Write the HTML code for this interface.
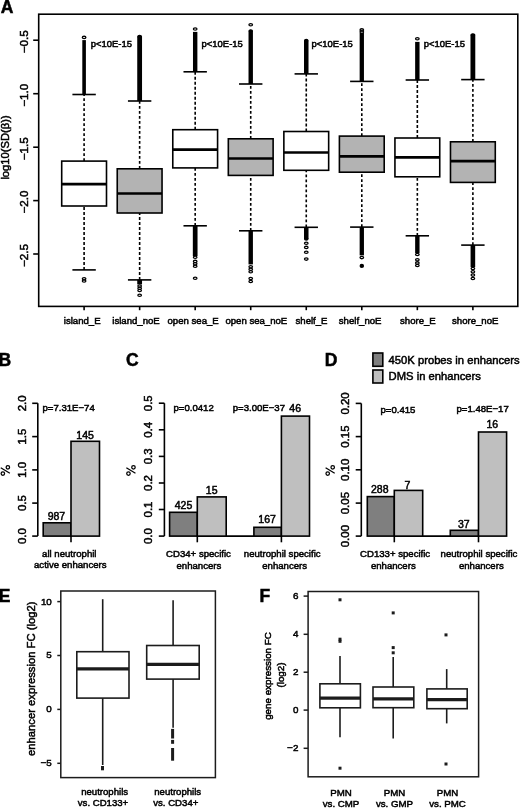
<!DOCTYPE html>
<html><head><meta charset="utf-8"><style>
html,body{margin:0;padding:0;background:#fff;}
svg{display:block;}
text{font-family:"Liberation Sans",sans-serif;fill:#000;stroke:#000;stroke-width:0.5px;}
svg{will-change:transform;}
</style></head><body>
<svg width="520" height="808" viewBox="0 0 520 808">
<text x="0.76" y="12.7" font-size="17.5" text-anchor="start" font-weight="bold">A</text>
<rect x="38.7" y="14.2" width="479.1" height="292.2" fill="none" stroke="#000" stroke-width="1.6"/>
<line x1="33.2" y1="40.2" x2="38.7" y2="40.2" stroke="#000" stroke-width="1.6"/>
<text x="28.2" y="41.7" font-size="10.8" text-anchor="middle" font-weight="normal" transform="rotate(-90 28.2 41.7) translate(28.2 41.7) scale(1.08 1) translate(-28.2 -41.7)">−0.5</text>
<line x1="33.2" y1="93.7" x2="38.7" y2="93.7" stroke="#000" stroke-width="1.6"/>
<text x="28.2" y="95.2" font-size="10.8" text-anchor="middle" font-weight="normal" transform="rotate(-90 28.2 95.2) translate(28.2 95.2) scale(1.08 1) translate(-28.2 -95.2)">−1.0</text>
<line x1="33.2" y1="147.2" x2="38.7" y2="147.2" stroke="#000" stroke-width="1.6"/>
<text x="28.2" y="148.7" font-size="10.8" text-anchor="middle" font-weight="normal" transform="rotate(-90 28.2 148.7) translate(28.2 148.7) scale(1.08 1) translate(-28.2 -148.7)">−1.5</text>
<line x1="33.2" y1="200.6" x2="38.7" y2="200.6" stroke="#000" stroke-width="1.6"/>
<text x="28.2" y="202.1" font-size="10.8" text-anchor="middle" font-weight="normal" transform="rotate(-90 28.2 202.1) translate(28.2 202.1) scale(1.08 1) translate(-28.2 -202.1)">−2.0</text>
<line x1="33.2" y1="254" x2="38.7" y2="254" stroke="#000" stroke-width="1.6"/>
<text x="28.2" y="255.5" font-size="10.8" text-anchor="middle" font-weight="normal" transform="rotate(-90 28.2 255.5) translate(28.2 255.5) scale(1.08 1) translate(-28.2 -255.5)">−2.5</text>
<text x="9.4" y="147.5" font-size="11.2" text-anchor="middle" font-weight="normal" transform="rotate(-90 9.4 147.5)">log10(SD(β))</text>
<line x1="84.1" y1="161.1" x2="84.1" y2="94.5" stroke="#000" stroke-width="1.6" stroke-dasharray="2.9 2.1"/>
<line x1="84.1" y1="269.9" x2="84.1" y2="206" stroke="#000" stroke-width="1.6" stroke-dasharray="2.9 2.1"/>
<line x1="72.4" y1="94.5" x2="95.8" y2="94.5" stroke="#000" stroke-width="1.6"/>
<line x1="72.4" y1="269.9" x2="95.8" y2="269.9" stroke="#000" stroke-width="1.6"/>
<rect x="61.7" y="161.1" width="44.8" height="44.9" fill="#fff" stroke="#000" stroke-width="1.6"/>
<line x1="61.7" y1="184.2" x2="106.5" y2="184.2" stroke="#000" stroke-width="2.7"/>
<line x1="139.64" y1="168.8" x2="139.64" y2="101" stroke="#000" stroke-width="1.6" stroke-dasharray="2.9 2.1"/>
<line x1="139.64" y1="279.9" x2="139.64" y2="213" stroke="#000" stroke-width="1.6" stroke-dasharray="2.9 2.1"/>
<line x1="127.94" y1="101" x2="151.34" y2="101" stroke="#000" stroke-width="1.6"/>
<line x1="127.94" y1="279.9" x2="151.34" y2="279.9" stroke="#000" stroke-width="1.6"/>
<rect x="117.24" y="168.8" width="44.8" height="44.2" fill="#b3b3b3" stroke="#000" stroke-width="1.6"/>
<line x1="117.24" y1="193.5" x2="162.04" y2="193.5" stroke="#000" stroke-width="2.7"/>
<line x1="195.18" y1="129.7" x2="195.18" y2="71.8" stroke="#000" stroke-width="1.6" stroke-dasharray="2.9 2.1"/>
<line x1="195.18" y1="225.8" x2="195.18" y2="167.9" stroke="#000" stroke-width="1.6" stroke-dasharray="2.9 2.1"/>
<line x1="183.48" y1="71.8" x2="206.88" y2="71.8" stroke="#000" stroke-width="1.6"/>
<line x1="183.48" y1="225.8" x2="206.88" y2="225.8" stroke="#000" stroke-width="1.6"/>
<rect x="172.78" y="129.7" width="44.8" height="38.2" fill="#fff" stroke="#000" stroke-width="1.6"/>
<line x1="172.78" y1="149.6" x2="217.58" y2="149.6" stroke="#000" stroke-width="2.7"/>
<line x1="250.72" y1="138.8" x2="250.72" y2="84" stroke="#000" stroke-width="1.6" stroke-dasharray="2.9 2.1"/>
<line x1="250.72" y1="230.8" x2="250.72" y2="175.4" stroke="#000" stroke-width="1.6" stroke-dasharray="2.9 2.1"/>
<line x1="239.02" y1="84" x2="262.42" y2="84" stroke="#000" stroke-width="1.6"/>
<line x1="239.02" y1="230.8" x2="262.42" y2="230.8" stroke="#000" stroke-width="1.6"/>
<rect x="228.32" y="138.8" width="44.8" height="36.6" fill="#b3b3b3" stroke="#000" stroke-width="1.6"/>
<line x1="228.32" y1="158.5" x2="273.12" y2="158.5" stroke="#000" stroke-width="2.7"/>
<line x1="306.26" y1="131.5" x2="306.26" y2="73.9" stroke="#000" stroke-width="1.6" stroke-dasharray="2.9 2.1"/>
<line x1="306.26" y1="227.3" x2="306.26" y2="170.3" stroke="#000" stroke-width="1.6" stroke-dasharray="2.9 2.1"/>
<line x1="294.56" y1="73.9" x2="317.96" y2="73.9" stroke="#000" stroke-width="1.6"/>
<line x1="294.56" y1="227.3" x2="317.96" y2="227.3" stroke="#000" stroke-width="1.6"/>
<rect x="283.86" y="131.5" width="44.8" height="38.8" fill="#fff" stroke="#000" stroke-width="1.6"/>
<line x1="283.86" y1="152.5" x2="328.66" y2="152.5" stroke="#000" stroke-width="2.7"/>
<line x1="361.8" y1="136.1" x2="361.8" y2="81.4" stroke="#000" stroke-width="1.6" stroke-dasharray="2.9 2.1"/>
<line x1="361.8" y1="227.1" x2="361.8" y2="172.2" stroke="#000" stroke-width="1.6" stroke-dasharray="2.9 2.1"/>
<line x1="350.1" y1="81.4" x2="373.5" y2="81.4" stroke="#000" stroke-width="1.6"/>
<line x1="350.1" y1="227.1" x2="373.5" y2="227.1" stroke="#000" stroke-width="1.6"/>
<rect x="339.4" y="136.1" width="44.8" height="36.1" fill="#b3b3b3" stroke="#000" stroke-width="1.6"/>
<line x1="339.4" y1="156.3" x2="384.2" y2="156.3" stroke="#000" stroke-width="2.7"/>
<line x1="417.34" y1="138" x2="417.34" y2="80" stroke="#000" stroke-width="1.6" stroke-dasharray="2.9 2.1"/>
<line x1="417.34" y1="235.8" x2="417.34" y2="176.8" stroke="#000" stroke-width="1.6" stroke-dasharray="2.9 2.1"/>
<line x1="405.64" y1="80" x2="429.04" y2="80" stroke="#000" stroke-width="1.6"/>
<line x1="405.64" y1="235.8" x2="429.04" y2="235.8" stroke="#000" stroke-width="1.6"/>
<rect x="394.94" y="138" width="44.8" height="38.8" fill="#fff" stroke="#000" stroke-width="1.6"/>
<line x1="394.94" y1="157.4" x2="439.74" y2="157.4" stroke="#000" stroke-width="2.7"/>
<line x1="472.88" y1="141.8" x2="472.88" y2="79.6" stroke="#000" stroke-width="1.6" stroke-dasharray="2.9 2.1"/>
<line x1="472.88" y1="245.1" x2="472.88" y2="182.4" stroke="#000" stroke-width="1.6" stroke-dasharray="2.9 2.1"/>
<line x1="461.18" y1="79.6" x2="484.58" y2="79.6" stroke="#000" stroke-width="1.6"/>
<line x1="461.18" y1="245.1" x2="484.58" y2="245.1" stroke="#000" stroke-width="1.6"/>
<rect x="450.48" y="141.8" width="44.8" height="40.6" fill="#b3b3b3" stroke="#000" stroke-width="1.6"/>
<line x1="450.48" y1="161.2" x2="495.28" y2="161.2" stroke="#000" stroke-width="2.7"/>
<rect x="82.3" y="40.1" width="3.6" height="54.4" fill="#000"/>
<ellipse cx="84.1" cy="37.4" rx="1.8" ry="1.15" fill="none" stroke="#000" stroke-width="1.3"/>
<rect x="137.24" y="36.5" width="4.8" height="64.5" fill="#000"/>
<ellipse cx="139.64" cy="36.5" rx="1.8" ry="1" fill="#000" stroke="#000" stroke-width="1.3"/>
<rect x="192.98" y="31.9" width="4.4" height="39.9" fill="#000"/>
<ellipse cx="195.18" cy="28.95" rx="1.8" ry="1.15" fill="none" stroke="#000" stroke-width="1.3"/>
<rect x="248.52" y="30.8" width="4.4" height="53.2" fill="#000"/>
<ellipse cx="250.72" cy="30.8" rx="1.6" ry="1" fill="#000" stroke="#000" stroke-width="1.3"/>
<ellipse cx="250.72" cy="24.7" rx="1.8" ry="1.15" fill="none" stroke="#000" stroke-width="1.3"/>
<rect x="304.01" y="40.5" width="4.5" height="33.4" fill="#000"/>
<ellipse cx="306.26" cy="40.5" rx="1.65" ry="1" fill="#000" stroke="#000" stroke-width="1.3"/>
<rect x="359.65" y="33" width="4.3" height="48.4" fill="#000"/>
<ellipse cx="361.8" cy="29.9" rx="1.8" ry="1.15" fill="none" stroke="#000" stroke-width="1.3"/>
<ellipse cx="361.8" cy="31.9" rx="1.8" ry="1.15" fill="none" stroke="#000" stroke-width="1.3"/>
<rect x="415.14" y="41.9" width="4.4" height="38.1" fill="#000"/>
<ellipse cx="417.34" cy="38.8" rx="1.8" ry="1.15" fill="none" stroke="#000" stroke-width="1.3"/>
<rect x="470.48" y="34.8" width="4.8" height="44.8" fill="#000"/>
<ellipse cx="472.88" cy="34.8" rx="1.8" ry="1" fill="#000" stroke="#000" stroke-width="1.3"/>
<ellipse cx="84.1" cy="278.7" rx="1.8" ry="1.15" fill="none" stroke="#000" stroke-width="1.3"/>
<ellipse cx="84.1" cy="281" rx="1.8" ry="1.15" fill="none" stroke="#000" stroke-width="1.3"/>
<rect x="137.24" y="279.9" width="4.8" height="4.5" fill="#000"/>
<ellipse cx="139.64" cy="286" rx="1.8" ry="1.15" fill="none" stroke="#000" stroke-width="1.3"/>
<ellipse cx="139.64" cy="288.2" rx="1.8" ry="1.15" fill="none" stroke="#000" stroke-width="1.3"/>
<ellipse cx="139.64" cy="290.5" rx="1.8" ry="1.15" fill="none" stroke="#000" stroke-width="1.3"/>
<ellipse cx="139.64" cy="295.2" rx="1.8" ry="1.15" fill="none" stroke="#000" stroke-width="1.3"/>
<rect x="192.83" y="225.8" width="4.7" height="30.2" fill="#000"/>
<ellipse cx="195.18" cy="257.3" rx="1.8" ry="1.15" fill="none" stroke="#000" stroke-width="1.3"/>
<ellipse cx="195.18" cy="261.4" rx="1.8" ry="1.15" fill="none" stroke="#000" stroke-width="1.3"/>
<ellipse cx="195.18" cy="263.8" rx="1.8" ry="1.15" fill="none" stroke="#000" stroke-width="1.3"/>
<ellipse cx="195.18" cy="266.3" rx="1.8" ry="1.15" fill="none" stroke="#000" stroke-width="1.3"/>
<ellipse cx="195.18" cy="278.3" rx="1.8" ry="1.15" fill="none" stroke="#000" stroke-width="1.3"/>
<rect x="248.52" y="230.8" width="4.4" height="33.6" fill="#000"/>
<ellipse cx="250.72" cy="266.8" rx="1.8" ry="1.15" fill="none" stroke="#000" stroke-width="1.3"/>
<ellipse cx="250.72" cy="269.2" rx="1.8" ry="1.15" fill="none" stroke="#000" stroke-width="1.3"/>
<ellipse cx="250.72" cy="271.7" rx="1.8" ry="1.15" fill="none" stroke="#000" stroke-width="1.3"/>
<ellipse cx="250.72" cy="278.5" rx="1.8" ry="1.15" fill="none" stroke="#000" stroke-width="1.3"/>
<ellipse cx="250.72" cy="281.5" rx="1.8" ry="1.15" fill="none" stroke="#000" stroke-width="1.3"/>
<rect x="304.01" y="227.3" width="4.5" height="11.7" fill="#000"/>
<ellipse cx="306.26" cy="239" rx="1.65" ry="1" fill="#000" stroke="#000" stroke-width="1.3"/>
<ellipse cx="306.26" cy="243.3" rx="1.8" ry="1.15" fill="none" stroke="#000" stroke-width="1.3"/>
<ellipse cx="306.26" cy="247.4" rx="1.8" ry="1.15" fill="none" stroke="#000" stroke-width="1.3"/>
<ellipse cx="306.26" cy="252.3" rx="1.8" ry="1.15" fill="none" stroke="#000" stroke-width="1.3"/>
<ellipse cx="306.26" cy="259.1" rx="1.8" ry="1.15" fill="none" stroke="#000" stroke-width="1.3"/>
<rect x="359.65" y="227.1" width="4.3" height="28.3" fill="#000"/>
<ellipse cx="361.8" cy="257.6" rx="1.8" ry="1.15" fill="none" stroke="#000" stroke-width="1.3"/>
<ellipse cx="361.8" cy="265.9" rx="1.6" ry="1.4" fill="#000" stroke="#000" stroke-width="1.3"/>
<rect x="415.14" y="235.8" width="4.4" height="17.3" fill="#000"/>
<ellipse cx="417.34" cy="254.5" rx="1.8" ry="1.15" fill="none" stroke="#000" stroke-width="1.3"/>
<ellipse cx="417.34" cy="259.7" rx="1.8" ry="1.15" fill="none" stroke="#000" stroke-width="1.3"/>
<ellipse cx="417.34" cy="262.9" rx="1.8" ry="1.15" fill="none" stroke="#000" stroke-width="1.3"/>
<ellipse cx="417.34" cy="265.5" rx="1.8" ry="1.15" fill="none" stroke="#000" stroke-width="1.3"/>
<rect x="470.58" y="245.1" width="4.6" height="22" fill="#000"/>
<ellipse cx="472.88" cy="268.6" rx="1.8" ry="1.15" fill="none" stroke="#000" stroke-width="1.3"/>
<ellipse cx="472.88" cy="271.7" rx="1.8" ry="1.15" fill="none" stroke="#000" stroke-width="1.3"/>
<ellipse cx="472.88" cy="275.1" rx="1.8" ry="1.15" fill="none" stroke="#000" stroke-width="1.3"/>
<ellipse cx="472.88" cy="278.5" rx="1.8" ry="1.15" fill="none" stroke="#000" stroke-width="1.3"/>
<line x1="84.1" y1="306.3" x2="84.1" y2="310.2" stroke="#000" stroke-width="1.6"/>
<line x1="139.64" y1="306.3" x2="139.64" y2="310.2" stroke="#000" stroke-width="1.6"/>
<line x1="195.18" y1="306.3" x2="195.18" y2="310.2" stroke="#000" stroke-width="1.6"/>
<line x1="250.72" y1="306.3" x2="250.72" y2="310.2" stroke="#000" stroke-width="1.6"/>
<line x1="306.26" y1="306.3" x2="306.26" y2="310.2" stroke="#000" stroke-width="1.6"/>
<line x1="361.8" y1="306.3" x2="361.8" y2="310.2" stroke="#000" stroke-width="1.6"/>
<line x1="417.34" y1="306.3" x2="417.34" y2="310.2" stroke="#000" stroke-width="1.6"/>
<line x1="472.88" y1="306.3" x2="472.88" y2="310.2" stroke="#000" stroke-width="1.6"/>
<text x="63.8" y="324.2" font-size="9.6" text-anchor="start" font-weight="normal">island_E</text>
<text x="112.3" y="324.2" font-size="9.6" text-anchor="start" font-weight="normal">island_noE</text>
<text x="167.5" y="324.2" font-size="9.6" text-anchor="start" font-weight="normal">open sea_E</text>
<text x="225.4" y="324.2" font-size="9.6" text-anchor="start" font-weight="normal">open sea_noE</text>
<text x="295.5" y="324.2" font-size="9.6" text-anchor="start" font-weight="normal">shelf_E</text>
<text x="338.8" y="324.2" font-size="9.6" text-anchor="start" font-weight="normal">shelf_noE</text>
<text x="400" y="324.2" font-size="9.6" text-anchor="start" font-weight="normal">shore_E</text>
<text x="452" y="324.2" font-size="9.6" text-anchor="start" font-weight="normal">shore_noE</text>
<text x="90.8" y="46.6" font-size="9.45" text-anchor="start" font-weight="normal">p&lt;10E-15</text>
<text x="201.6" y="46.8" font-size="9.45" text-anchor="start" font-weight="normal">p&lt;10E-15</text>
<text x="311.6" y="46.5" font-size="9.45" text-anchor="start" font-weight="normal">p&lt;10E-15</text>
<text x="423.7" y="47.3" font-size="9.45" text-anchor="start" font-weight="normal">p&lt;10E-15</text>
<text x="-1.5" y="365.6" font-size="17.5" text-anchor="start" font-weight="bold">B</text>
<line x1="37.8" y1="403.3" x2="37.8" y2="536.1" stroke="#000" stroke-width="1.6"/>
<line x1="32.2" y1="536.1" x2="37.8" y2="536.1" stroke="#000" stroke-width="1.6"/>
<text x="26.1" y="536.1" font-size="11.2" text-anchor="middle" font-weight="normal" transform="rotate(-90 26.1 536.1) translate(26.1 536.1) scale(1.02 1) translate(-26.1 -536.1)">0.0</text>
<line x1="32.2" y1="503.1" x2="37.8" y2="503.1" stroke="#000" stroke-width="1.6"/>
<text x="26.1" y="503.1" font-size="11.2" text-anchor="middle" font-weight="normal" transform="rotate(-90 26.1 503.1) translate(26.1 503.1) scale(1.02 1) translate(-26.1 -503.1)">0.5</text>
<line x1="32.2" y1="469.9" x2="37.8" y2="469.9" stroke="#000" stroke-width="1.6"/>
<text x="26.1" y="469.9" font-size="11.2" text-anchor="middle" font-weight="normal" transform="rotate(-90 26.1 469.9) translate(26.1 469.9) scale(1.02 1) translate(-26.1 -469.9)">1.0</text>
<line x1="32.2" y1="436.6" x2="37.8" y2="436.6" stroke="#000" stroke-width="1.6"/>
<text x="26.1" y="436.6" font-size="11.2" text-anchor="middle" font-weight="normal" transform="rotate(-90 26.1 436.6) translate(26.1 436.6) scale(1.02 1) translate(-26.1 -436.6)">1.5</text>
<line x1="32.2" y1="403.3" x2="37.8" y2="403.3" stroke="#000" stroke-width="1.6"/>
<text x="26.1" y="403.3" font-size="11.2" text-anchor="middle" font-weight="normal" transform="rotate(-90 26.1 403.3) translate(26.1 403.3) scale(1.02 1) translate(-26.1 -403.3)">2.0</text>
<g fill="none" stroke="#000" stroke-width="1.25"><circle cx="7.85" cy="467.3" r="1.75"/><circle cx="2.85" cy="473.5" r="1.75"/><line x1="0.75" y1="467.8" x2="9.85" y2="473.2"/></g>
<rect x="43.2" y="522.8" width="27.8" height="13.3" fill="#7f7f7f" stroke="#000" stroke-width="1.6"/>
<rect x="71" y="441.3" width="28.5" height="94.8" fill="#bfbfbf" stroke="#000" stroke-width="1.6"/>
<line x1="71" y1="536.1" x2="71" y2="542.3" stroke="#000" stroke-width="1.6"/>
<text x="56.4" y="519.9" font-size="10.5" text-anchor="middle" font-weight="normal">987</text>
<text x="85.1" y="439" font-size="10.5" text-anchor="middle" font-weight="normal">145</text>
<text x="42.5" y="411.3" font-size="9.6" text-anchor="start" font-weight="normal">p=7.31E−74</text>
<text x="69.3" y="557" font-size="9.6" text-anchor="middle" font-weight="normal">all neutrophil</text>
<text x="70.3" y="568.3" font-size="9.6" text-anchor="middle" font-weight="normal">active enhancers</text>
<text x="126" y="365.5" font-size="17.5" text-anchor="start" font-weight="bold">C</text>
<line x1="164.4" y1="403.2" x2="164.4" y2="536.1" stroke="#000" stroke-width="1.6"/>
<line x1="158.8" y1="536.1" x2="164.4" y2="536.1" stroke="#000" stroke-width="1.6"/>
<text x="152.4" y="536.1" font-size="11.2" text-anchor="middle" font-weight="normal" transform="rotate(-90 152.4 536.1) translate(152.4 536.1) scale(1.02 1) translate(-152.4 -536.1)">0.0</text>
<line x1="158.8" y1="509.5" x2="164.4" y2="509.5" stroke="#000" stroke-width="1.6"/>
<text x="152.4" y="509.5" font-size="11.2" text-anchor="middle" font-weight="normal" transform="rotate(-90 152.4 509.5) translate(152.4 509.5) scale(1.02 1) translate(-152.4 -509.5)">0.1</text>
<line x1="158.8" y1="483" x2="164.4" y2="483" stroke="#000" stroke-width="1.6"/>
<text x="152.4" y="483" font-size="11.2" text-anchor="middle" font-weight="normal" transform="rotate(-90 152.4 483) translate(152.4 483) scale(1.02 1) translate(-152.4 -483)">0.2</text>
<line x1="158.8" y1="456.4" x2="164.4" y2="456.4" stroke="#000" stroke-width="1.6"/>
<text x="152.4" y="456.4" font-size="11.2" text-anchor="middle" font-weight="normal" transform="rotate(-90 152.4 456.4) translate(152.4 456.4) scale(1.02 1) translate(-152.4 -456.4)">0.3</text>
<line x1="158.8" y1="429.8" x2="164.4" y2="429.8" stroke="#000" stroke-width="1.6"/>
<text x="152.4" y="429.8" font-size="11.2" text-anchor="middle" font-weight="normal" transform="rotate(-90 152.4 429.8) translate(152.4 429.8) scale(1.02 1) translate(-152.4 -429.8)">0.4</text>
<line x1="158.8" y1="403.2" x2="164.4" y2="403.2" stroke="#000" stroke-width="1.6"/>
<text x="152.4" y="403.2" font-size="11.2" text-anchor="middle" font-weight="normal" transform="rotate(-90 152.4 403.2) translate(152.4 403.2) scale(1.02 1) translate(-152.4 -403.2)">0.5</text>
<g fill="none" stroke="#000" stroke-width="1.25"><circle cx="133.45" cy="467.3" r="1.75"/><circle cx="128.45" cy="473.5" r="1.75"/><line x1="126.35" y1="467.8" x2="135.45" y2="473.2"/></g>
<line x1="197.3" y1="536.1" x2="281.4" y2="536.1" stroke="#000" stroke-width="1.6"/>
<rect x="169.6" y="512.3" width="27.7" height="23.8" fill="#7f7f7f" stroke="#000" stroke-width="1.6"/>
<rect x="197.3" y="496.9" width="28.9" height="39.2" fill="#bfbfbf" stroke="#000" stroke-width="1.6"/>
<rect x="253.9" y="527.3" width="27.5" height="8.8" fill="#7f7f7f" stroke="#000" stroke-width="1.6"/>
<rect x="281.4" y="416.1" width="28.1" height="120" fill="#bfbfbf" stroke="#000" stroke-width="1.6"/>
<line x1="197.3" y1="536.1" x2="197.3" y2="542.3" stroke="#000" stroke-width="1.6"/>
<line x1="281.4" y1="536.1" x2="281.4" y2="542.3" stroke="#000" stroke-width="1.6"/>
<text x="183.5" y="508.9" font-size="10.5" text-anchor="middle" font-weight="normal">425</text>
<text x="211.7" y="493.9" font-size="10.5" text-anchor="middle" font-weight="normal">15</text>
<text x="267.1" y="523.4" font-size="10.5" text-anchor="middle" font-weight="normal">167</text>
<text x="295.2" y="412.4" font-size="10.5" text-anchor="middle" font-weight="normal">46</text>
<text x="173.5" y="410.5" font-size="9.6" text-anchor="start" font-weight="normal">p=0.0412</text>
<text x="232.7" y="411.3" font-size="9.6" text-anchor="start" font-weight="normal">p=3.00E−37</text>
<text x="198.5" y="557" font-size="9.6" text-anchor="middle" font-weight="normal">CD34+ specific</text>
<text x="198.9" y="568.5" font-size="9.6" text-anchor="middle" font-weight="normal">enhancers</text>
<text x="282.2" y="557" font-size="9.6" text-anchor="middle" font-weight="normal">neutrophil specific</text>
<text x="284.7" y="568.5" font-size="9.6" text-anchor="middle" font-weight="normal">enhancers</text>
<text x="324.8" y="365.6" font-size="17.5" text-anchor="start" font-weight="bold">D</text>
<line x1="361.3" y1="403.4" x2="361.3" y2="536.1" stroke="#000" stroke-width="1.6"/>
<line x1="355.7" y1="536.1" x2="361.3" y2="536.1" stroke="#000" stroke-width="1.6"/>
<text x="349.1" y="536.1" font-size="11.2" text-anchor="middle" font-weight="normal" transform="rotate(-90 349.1 536.1) translate(349.1 536.1) scale(1.02 1) translate(-349.1 -536.1)">0.00</text>
<line x1="355.7" y1="503.1" x2="361.3" y2="503.1" stroke="#000" stroke-width="1.6"/>
<text x="349.1" y="503.1" font-size="11.2" text-anchor="middle" font-weight="normal" transform="rotate(-90 349.1 503.1) translate(349.1 503.1) scale(1.02 1) translate(-349.1 -503.1)">0.05</text>
<line x1="355.7" y1="469.8" x2="361.3" y2="469.8" stroke="#000" stroke-width="1.6"/>
<text x="349.1" y="469.8" font-size="11.2" text-anchor="middle" font-weight="normal" transform="rotate(-90 349.1 469.8) translate(349.1 469.8) scale(1.02 1) translate(-349.1 -469.8)">0.10</text>
<line x1="355.7" y1="436.6" x2="361.3" y2="436.6" stroke="#000" stroke-width="1.6"/>
<text x="349.1" y="436.6" font-size="11.2" text-anchor="middle" font-weight="normal" transform="rotate(-90 349.1 436.6) translate(349.1 436.6) scale(1.02 1) translate(-349.1 -436.6)">0.15</text>
<line x1="355.7" y1="403.4" x2="361.3" y2="403.4" stroke="#000" stroke-width="1.6"/>
<text x="349.1" y="403.4" font-size="11.2" text-anchor="middle" font-weight="normal" transform="rotate(-90 349.1 403.4) translate(349.1 403.4) scale(1.02 1) translate(-349.1 -403.4)">0.20</text>
<g fill="none" stroke="#000" stroke-width="1.25"><circle cx="332.7" cy="467.3" r="1.75"/><circle cx="327.7" cy="473.5" r="1.75"/><line x1="325.6" y1="467.8" x2="334.7" y2="473.2"/></g>
<line x1="394.3" y1="536.1" x2="478.5" y2="536.1" stroke="#000" stroke-width="1.6"/>
<rect x="367.3" y="496.6" width="27" height="39.5" fill="#7f7f7f" stroke="#000" stroke-width="1.6"/>
<rect x="394.3" y="490.4" width="28.4" height="45.7" fill="#bfbfbf" stroke="#000" stroke-width="1.6"/>
<rect x="450.3" y="530.3" width="28.2" height="5.8" fill="#7f7f7f" stroke="#000" stroke-width="1.6"/>
<rect x="478.5" y="432" width="28.1" height="104.1" fill="#bfbfbf" stroke="#000" stroke-width="1.6"/>
<line x1="394.3" y1="536.1" x2="394.3" y2="542.3" stroke="#000" stroke-width="1.6"/>
<line x1="478.5" y1="536.1" x2="478.5" y2="542.3" stroke="#000" stroke-width="1.6"/>
<text x="379.8" y="492.7" font-size="10.5" text-anchor="middle" font-weight="normal">288</text>
<text x="407.4" y="489" font-size="10.5" text-anchor="middle" font-weight="normal">7</text>
<text x="463.8" y="527.8" font-size="10.5" text-anchor="middle" font-weight="normal">37</text>
<text x="492.3" y="428.1" font-size="10.5" text-anchor="middle" font-weight="normal">16</text>
<text x="380.5" y="413" font-size="9.6" text-anchor="start" font-weight="normal">p=0.415</text>
<text x="456.5" y="412" font-size="9.6" text-anchor="start" font-weight="normal">p=1.48E−17</text>
<text x="395.1" y="557.3" font-size="9.6" text-anchor="middle" font-weight="normal">CD133+ specific</text>
<text x="393.3" y="568.5" font-size="9.6" text-anchor="middle" font-weight="normal">enhancers</text>
<text x="479" y="557.3" font-size="9.6" text-anchor="middle" font-weight="normal">neutrophil specific</text>
<text x="481.3" y="568.5" font-size="9.6" text-anchor="middle" font-weight="normal">enhancers</text>
<rect x="372.9" y="353" width="9.9" height="13.3" fill="#7f7f7f" stroke="#000" stroke-width="1.6"/>
<rect x="372.9" y="370" width="9.9" height="13" fill="#bfbfbf" stroke="#000" stroke-width="1.6"/>
<text x="388.6" y="363.6" font-size="11.22" text-anchor="start" font-weight="normal">450K probes in enhancers</text>
<text x="388.6" y="379.7" font-size="11.22" text-anchor="start" font-weight="normal">DMS in enhancers</text>
<text x="-1.3" y="602.1" font-size="17.5" text-anchor="start" font-weight="bold">E</text>
<rect x="60.8" y="591" width="154.6" height="186.6" fill="none" stroke="#1c1c1c" stroke-width="1.5"/>
<line x1="57.3" y1="601.6" x2="60.8" y2="601.6" stroke="#1c1c1c" stroke-width="1.5"/>
<text x="51.8" y="604.5" font-size="9.8" text-anchor="end" font-weight="normal">10</text>
<line x1="57.3" y1="655.5" x2="60.8" y2="655.5" stroke="#1c1c1c" stroke-width="1.5"/>
<text x="51.8" y="658.4" font-size="9.8" text-anchor="end" font-weight="normal">5</text>
<line x1="57.3" y1="709.4" x2="60.8" y2="709.4" stroke="#1c1c1c" stroke-width="1.5"/>
<text x="51.8" y="712.3" font-size="9.8" text-anchor="end" font-weight="normal">0</text>
<line x1="57.3" y1="763.3" x2="60.8" y2="763.3" stroke="#1c1c1c" stroke-width="1.5"/>
<text x="51.8" y="766.2" font-size="9.8" text-anchor="end" font-weight="normal">−5</text>
<text x="35.2" y="678.8" font-size="11.26" text-anchor="middle" font-weight="normal" transform="rotate(-90 35.2 678.8)">enhancer expression FC (log2)</text>
<line x1="102.7" y1="599.2" x2="102.7" y2="651.7" stroke="#1c1c1c" stroke-width="1.6"/>
<line x1="102.7" y1="698.1" x2="102.7" y2="765" stroke="#1c1c1c" stroke-width="1.6"/>
<rect x="76.8" y="651.7" width="52.2" height="46.4" fill="#fff" stroke="#1c1c1c" stroke-width="1.6"/>
<line x1="76.8" y1="668.8" x2="129" y2="668.8" stroke="#1c1c1c" stroke-width="3.2"/>
<line x1="173.1" y1="600.2" x2="173.1" y2="645.5" stroke="#1c1c1c" stroke-width="1.6"/>
<line x1="173.1" y1="679.1" x2="173.1" y2="727.8" stroke="#1c1c1c" stroke-width="1.6"/>
<rect x="146.7" y="645.5" width="52.5" height="33.6" fill="#fff" stroke="#1c1c1c" stroke-width="1.6"/>
<line x1="146.7" y1="664.3" x2="199.2" y2="664.3" stroke="#1c1c1c" stroke-width="3.2"/>
<rect x="101.0" y="766" width="3" height="4.3" fill="#1c1c1c"/>
<rect x="171.1" y="728.9" width="3" height="9.6" fill="#1c1c1c"/>
<rect x="171.1" y="739.9" width="3" height="3.9" fill="#1c1c1c"/>
<rect x="171.1" y="748.0" width="3" height="12.7" fill="#1c1c1c"/>
<text x="104.6" y="794.9" font-size="9.6" text-anchor="middle" font-weight="normal">neutrophils</text>
<text x="103" y="806" font-size="9.6" text-anchor="middle" font-weight="normal">vs. CD133+</text>
<text x="177.7" y="795.2" font-size="9.6" text-anchor="middle" font-weight="normal">neutrophils</text>
<text x="175.8" y="806.3" font-size="9.6" text-anchor="middle" font-weight="normal">vs. CD34+</text>
<text x="259.6" y="602.1" font-size="17.5" text-anchor="start" font-weight="bold">F</text>
<rect x="308.1" y="591.5" width="170.5" height="185.3" fill="none" stroke="#1c1c1c" stroke-width="1.5"/>
<line x1="303.6" y1="596.1" x2="308.1" y2="596.1" stroke="#1c1c1c" stroke-width="1.5"/>
<text x="298.5" y="599" font-size="9.8" text-anchor="end" font-weight="normal">6</text>
<line x1="303.6" y1="634.3" x2="308.1" y2="634.3" stroke="#1c1c1c" stroke-width="1.5"/>
<text x="298.5" y="637.2" font-size="9.8" text-anchor="end" font-weight="normal">4</text>
<line x1="303.6" y1="672.2" x2="308.1" y2="672.2" stroke="#1c1c1c" stroke-width="1.5"/>
<text x="298.5" y="675.1" font-size="9.8" text-anchor="end" font-weight="normal">2</text>
<line x1="303.6" y1="710.1" x2="308.1" y2="710.1" stroke="#1c1c1c" stroke-width="1.5"/>
<text x="298.5" y="713" font-size="9.8" text-anchor="end" font-weight="normal">0</text>
<line x1="303.6" y1="748.3" x2="308.1" y2="748.3" stroke="#1c1c1c" stroke-width="1.5"/>
<text x="298.5" y="751.2" font-size="9.8" text-anchor="end" font-weight="normal">−2</text>
<text x="270.8" y="676" font-size="9.8" text-anchor="middle" font-weight="normal" transform="rotate(-90 270.8 676)">gene expression FC</text>
<text x="283.5" y="675" font-size="9.8" text-anchor="middle" font-weight="normal" transform="rotate(-90 283.5 675)">(log2)</text>
<line x1="340" y1="655.9" x2="340" y2="683.8" stroke="#1c1c1c" stroke-width="1.6"/>
<line x1="340" y1="707.8" x2="340" y2="737.3" stroke="#1c1c1c" stroke-width="1.6"/>
<rect x="319.9" y="683.8" width="40.5" height="24" fill="#fff" stroke="#1c1c1c" stroke-width="1.6"/>
<line x1="319.9" y1="698.2" x2="360.4" y2="698.2" stroke="#1c1c1c" stroke-width="3.2"/>
<line x1="393.2" y1="656.9" x2="393.2" y2="687" stroke="#1c1c1c" stroke-width="1.6"/>
<line x1="393.2" y1="707.7" x2="393.2" y2="738.4" stroke="#1c1c1c" stroke-width="1.6"/>
<rect x="373" y="687" width="40.8" height="20.7" fill="#fff" stroke="#1c1c1c" stroke-width="1.6"/>
<line x1="373" y1="698.8" x2="413.8" y2="698.8" stroke="#1c1c1c" stroke-width="3.2"/>
<line x1="446.7" y1="669.1" x2="446.7" y2="688.9" stroke="#1c1c1c" stroke-width="1.6"/>
<line x1="446.7" y1="708.7" x2="446.7" y2="723.4" stroke="#1c1c1c" stroke-width="1.6"/>
<rect x="426.9" y="688.9" width="40.3" height="19.8" fill="#fff" stroke="#1c1c1c" stroke-width="1.6"/>
<line x1="426.9" y1="699.6" x2="467.2" y2="699.6" stroke="#1c1c1c" stroke-width="3.2"/>
<rect x="338.5" y="598.3" width="3" height="3" fill="#1c1c1c"/>
<rect x="338.5" y="637.7" width="3" height="3" fill="#1c1c1c"/>
<rect x="338.5" y="639.8" width="3" height="3" fill="#1c1c1c"/>
<rect x="338.5" y="766.7" width="3" height="3" fill="#1c1c1c"/>
<rect x="391.7" y="611.4" width="3" height="3" fill="#1c1c1c"/>
<rect x="391.7" y="646.1" width="3" height="3" fill="#1c1c1c"/>
<rect x="391.7" y="651.3" width="3" height="3" fill="#1c1c1c"/>
<rect x="444.5" y="633.4" width="3" height="3" fill="#1c1c1c"/>
<rect x="444.5" y="762.5" width="3" height="3" fill="#1c1c1c"/>
<text x="341" y="795.9" font-size="9.7" text-anchor="middle" font-weight="normal">PMN</text>
<text x="341" y="807.2" font-size="9.7" text-anchor="middle" font-weight="normal">vs. CMP</text>
<text x="394.5" y="795.9" font-size="9.7" text-anchor="middle" font-weight="normal">PMN</text>
<text x="394.5" y="807.2" font-size="9.7" text-anchor="middle" font-weight="normal">vs. GMP</text>
<text x="447.5" y="795.9" font-size="9.7" text-anchor="middle" font-weight="normal">PMN</text>
<text x="447.5" y="807.2" font-size="9.7" text-anchor="middle" font-weight="normal">vs. PMC</text>
</svg></body></html>
